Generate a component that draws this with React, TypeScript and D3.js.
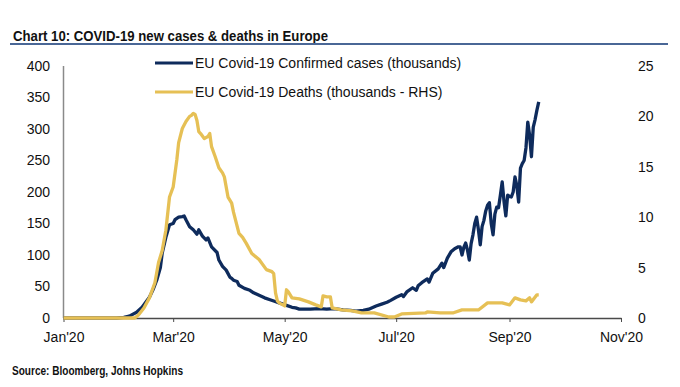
import React, { useRef, useEffect } from "react";
import * as d3 from "d3";

// EU Covid-19 confirmed cases (thousands), left axis
const caseDates = [
  "2020-01-01", "2020-01-30", "2020-02-03", "2020-02-06", "2020-02-10", "2020-02-13",
  "2020-02-17", "2020-02-19", "2020-02-21", "2020-02-23", "2020-02-24", "2020-02-26",
  "2020-02-28", "2020-03-01", "2020-03-02", "2020-03-04", "2020-03-06", "2020-03-07",
  "2020-03-08", "2020-03-10", "2020-03-12", "2020-03-14", "2020-03-15", "2020-03-17",
  "2020-03-19", "2020-03-20", "2020-03-22", "2020-03-25", "2020-03-26", "2020-03-28",
  "2020-03-30", "2020-04-01", "2020-04-02", "2020-04-03", "2020-04-05", "2020-04-06",
  "2020-04-09", "2020-04-12", "2020-04-14", "2020-04-17", "2020-04-20", "2020-04-23",
  "2020-04-25", "2020-04-28", "2020-05-02", "2020-05-05", "2020-05-07", "2020-05-09",
  "2020-05-15", "2020-05-20", "2020-05-24", "2020-05-28", "2020-06-02", "2020-06-06",
  "2020-06-09", "2020-06-13", "2020-06-16", "2020-06-20", "2020-06-23", "2020-06-26",
  "2020-06-28", "2020-07-01", "2020-07-04", "2020-07-05", "2020-07-07", "2020-07-10",
  "2020-07-12", "2020-07-13", "2020-07-15", "2020-07-18", "2020-07-19", "2020-07-21",
  "2020-07-24", "2020-07-26", "2020-07-27", "2020-07-29", "2020-07-31", "2020-08-02",
  "2020-08-04", "2020-08-05", "2020-08-06", "2020-08-07", "2020-08-08", "2020-08-09",
  "2020-08-10", "2020-08-11", "2020-08-12", "2020-08-13", "2020-08-14", "2020-08-15",
  "2020-08-16", "2020-08-17", "2020-08-18", "2020-08-19", "2020-08-20", "2020-08-21",
  "2020-08-22", "2020-08-23", "2020-08-24", "2020-08-25", "2020-08-26", "2020-08-27",
  "2020-08-28", "2020-08-29", "2020-08-30", "2020-08-31", "2020-09-01", "2020-09-02",
  "2020-09-03", "2020-09-04", "2020-09-05", "2020-09-06", "2020-09-07", "2020-09-08",
  "2020-09-09", "2020-09-10", "2020-09-11", "2020-09-12", "2020-09-13", "2020-09-14",
  "2020-09-15", "2020-09-16", "2020-09-17",
];
const caseValues = [
  0, 0, 1, 3, 9, 17,
  33, 45, 60, 80, 103, 128,
  148, 150, 156, 160, 161, 162,
  156, 145, 140, 133, 140, 130,
  124, 127, 113, 104, 92, 82,
  76, 65, 63, 60, 58, 52,
  47, 44, 40, 36, 32, 29,
  27, 24, 20, 17, 16, 14,
  14, 15, 14, 15, 13, 12,
  11, 12, 14, 19, 22, 25,
  28, 33, 37, 34, 42, 48,
  44, 51, 56, 62, 57, 71,
  78, 87, 80, 95, 105, 110,
  113, 113, 100, 112, 119, 108,
  92, 118, 132, 150, 160, 140,
  116, 145, 155, 170, 179, 183,
  150, 132, 165, 176, 175, 195,
  216, 185, 162, 195, 193, 192,
  200, 224, 210, 184, 238, 245,
  250, 270, 311, 290, 256, 303,
  315, 330, 343,
];

// EU Covid-19 deaths (thousands), right axis
const deathDates = [
  "2020-01-01", "2020-02-09", "2020-02-11", "2020-02-14", "2020-02-17", "2020-02-20",
  "2020-02-22", "2020-02-24", "2020-02-26", "2020-02-28", "2020-03-01", "2020-03-03",
  "2020-03-04", "2020-03-06", "2020-03-08", "2020-03-10", "2020-03-11", "2020-03-12",
  "2020-03-13", "2020-03-14", "2020-03-15", "2020-03-16", "2020-03-18", "2020-03-20",
  "2020-03-21", "2020-03-22", "2020-03-24", "2020-03-26", "2020-03-28", "2020-03-29",
  "2020-03-31", "2020-04-02", "2020-04-03", "2020-04-06", "2020-04-08", "2020-04-10",
  "2020-04-13", "2020-04-17", "2020-04-21", "2020-04-24", "2020-04-25", "2020-04-26",
  "2020-04-27", "2020-04-28", "2020-05-01", "2020-05-02", "2020-05-03", "2020-05-05",
  "2020-05-09", "2020-05-14", "2020-05-18", "2020-05-21", "2020-05-22", "2020-05-24",
  "2020-05-26", "2020-05-27", "2020-06-01", "2020-06-07", "2020-06-12", "2020-06-19",
  "2020-06-27", "2020-06-30", "2020-07-04", "2020-07-17", "2020-07-18", "2020-07-25",
  "2020-08-01", "2020-08-06", "2020-08-15", "2020-08-20", "2020-08-28", "2020-09-01",
  "2020-09-04", "2020-09-07", "2020-09-10", "2020-09-12", "2020-09-13", "2020-09-16",
  "2020-09-17",
];
const deathValues = [
  0, 0, 0.3, 1.0, 2.0, 3.5,
  5.5, 6.7, 8.7, 12.0, 13.0, 15.7,
  17.4, 18.8, 19.5, 20.0, 20.1, 20.3,
  20.2, 19.6, 18.5, 18.3, 17.8, 18.0,
  18.3, 17.0, 16.0, 14.9, 14.4, 14.0,
  12.0, 11.4, 10.5, 8.4, 8.0, 7.4,
  6.4, 5.8, 4.8, 4.6, 4.4, 2.5,
  1.7, 1.5, 1.2, 2.8, 2.6, 2.0,
  1.9, 1.6, 1.3, 1.1, 2.2, 2.1,
  2.1, 1.0, 0.8, 0.7, 0.5, 0.5,
  0.1, 0.1, 0.4, 0.5, 0.6, 0.5,
  0.5, 0.8, 0.8, 1.5, 1.5, 1.3,
  2.0, 1.8, 1.7, 2.0, 1.6, 2.3,
  2.3,
];

const leftTicks = [0, 50, 100, 150, 200, 250, 300, 350, 400];
const rightTicks = [0, 5, 10, 15, 20, 25];
const seriesNames = [
  "EU Covid-19 Confirmed cases (thousands)",
  "EU Covid-19 Deaths (thousands - RHS)",
];

const NAVY = "#0e2b5c";
const GOLD = "#e6c055";

const App = () => {
  const svgRef = useRef<SVGSVGElement>(null);

  useEffect(() => {
    const width = 680;
    const height = 387;
    const plot = { left: 63.5, right: 621, top: 66, bottom: 318 };
    const font = "'Liberation Sans', Arial, sans-serif";
    const narrow = "'Liberation Sans Narrow', 'Arial Narrow', 'Liberation Sans', Arial, sans-serif";

    const svg = d3.select(svgRef.current).attr("width", width).attr("height", height);
    svg.selectAll("*").remove();

    const parse = d3.timeParse("%Y-%m-%d");
    const x = d3
      .scaleTime()
      .domain([new Date(2020, 0, 1), new Date(2020, 10, 1)])
      .range([plot.left, plot.right]);
    const yL = d3.scaleLinear().domain([0, 400]).range([plot.bottom, plot.top]);
    const yR = d3.scaleLinear().domain([0, 25]).range([plot.bottom, plot.top]);

    // title + rule
    svg
      .append("text")
      .attr("x", 13)
      .attr("y", 41)
      .attr("font-family", narrow)
      .attr("font-weight", "bold")
      .attr("font-size", 15)
      .attr("textLength", 315)
      .attr("lengthAdjust", "spacingAndGlyphs")
      .attr("fill", "#111")
      .text("Chart 10: COVID-19 new cases & deaths  in Europe");
    svg
      .append("line")
      .attr("x1", 10)
      .attr("x2", 668)
      .attr("y1", 44)
      .attr("y2", 44)
      .attr("stroke", "#4a6796")
      .attr("stroke-width", 2);

    // left axis (no ticks, just labels + line)
    svg
      .append("line")
      .attr("x1", plot.left)
      .attr("x2", plot.left)
      .attr("y1", yL(400))
      .attr("y2", yL(0))
      .attr("stroke", "#8a8a8a")
      .attr("stroke-width", 1.5);
    svg
      .append("g")
      .selectAll("text")
      .data(leftTicks)
      .enter()
      .append("text")
      .attr("x", 50)
      .attr("y", (d) => yL(d))
      .attr("dy", "0.35em")
      .attr("text-anchor", "end")
      .attr("font-family", font)
      .attr("font-size", 14)
      .attr("fill", "#111")
      .text((d) => d);

    // right axis labels
    svg
      .append("g")
      .selectAll("text")
      .data(rightTicks)
      .enter()
      .append("text")
      .attr("x", 638)
      .attr("y", (d) => yR(d))
      .attr("dy", "0.35em")
      .attr("text-anchor", "start")
      .attr("font-family", font)
      .attr("font-size", 14)
      .attr("fill", "#111")
      .text((d) => d);

    // bottom axis
    const xAxis = d3
      .axisBottom(x)
      .ticks(d3.timeMonth.every(2))
      .tickFormat((d) => d3.timeFormat("%b'%y")(d as Date))
      .tickSize(4)
      .tickSizeOuter(0)
      .tickPadding(10);
    const gx = svg
      .append("g")
      .attr("transform", `translate(0,${plot.bottom})`)
      .call(xAxis);
    gx.select(".domain").attr("stroke", "#4a4a4a").attr("stroke-width", 1.5);
    gx.selectAll(".tick line").attr("stroke", "#4a4a4a");
    gx.selectAll(".tick text")
      .attr("font-family", font)
      .attr("font-size", 14)
      .attr("fill", "#111");

    // series
    const cases = caseDates.map((d, i) => ({ date: parse(d) as Date, v: caseValues[i] }));
    const deaths = deathDates.map((d, i) => ({ date: parse(d) as Date, v: deathValues[i] }));

    const lineL = d3
      .line<{ date: Date; v: number }>()
      .x((d) => x(d.date))
      .y((d) => yL(d.v));
    const lineR = d3
      .line<{ date: Date; v: number }>()
      .x((d) => x(d.date))
      .y((d) => yR(d.v));

    svg
      .append("path")
      .datum(cases)
      .attr("d", lineL)
      .attr("fill", "none")
      .attr("stroke", NAVY)
      .attr("stroke-width", 3.3)
      .attr("stroke-linejoin", "round");
    svg
      .append("path")
      .datum(deaths)
      .attr("d", lineR)
      .attr("fill", "none")
      .attr("stroke", GOLD)
      .attr("stroke-width", 3.3)
      .attr("stroke-linejoin", "round");

    // legend
    const legend = svg
      .append("g")
      .selectAll("g")
      .data(seriesNames)
      .enter()
      .append("g")
      .attr("transform", (_, i) => `translate(155,${63 + i * 29})`);
    legend
      .append("line")
      .attr("x1", 0)
      .attr("x2", 38)
      .attr("stroke", (_, i) => (i === 0 ? NAVY : GOLD))
      .attr("stroke-width", 3);
    legend
      .append("text")
      .attr("x", 40)
      .attr("dy", "0.35em")
      .attr("font-family", font)
      .attr("font-size", 14)
      .attr("fill", "#111")
      .text((d) => d);

    // source
    svg
      .append("text")
      .attr("x", 12)
      .attr("y", 375)
      .attr("font-family", narrow)
      .attr("font-weight", "bold")
      .attr("font-size", 12)
      .attr("textLength", 171)
      .attr("lengthAdjust", "spacingAndGlyphs")
      .attr("fill", "#111")
      .text("Source: Bloomberg, Johns Hopkins");
  }, []);

  return (
    <svg
      ref={svgRef}
      style={{ position: "absolute", left: 0, top: 0, background: "#fff" }}
    ></svg>
  );
};

export default App;
